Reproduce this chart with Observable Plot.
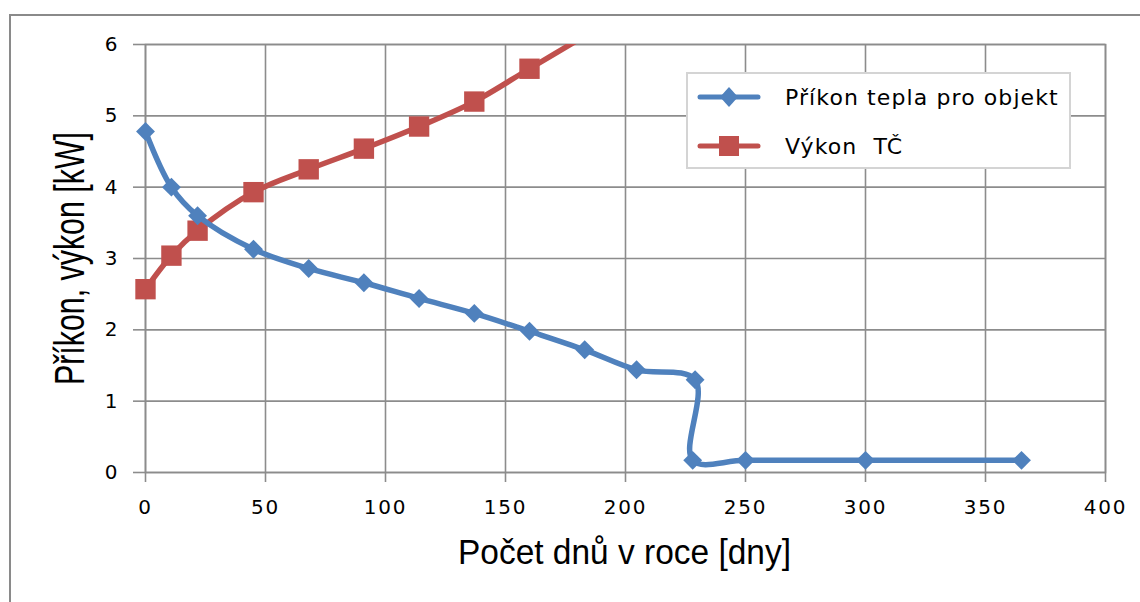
<!DOCTYPE html>
<html>
<head>
<meta charset="utf-8">
<script src="https://cdn.jsdelivr.net/npm/d3@7"></script>
<script src="https://cdn.jsdelivr.net/npm/@observablehq/plot@0.6"></script>
<style>
  html, body { margin: 0; padding: 0; background: #fff; }
  #wrap { position: relative; width: 1140px; height: 602px; overflow: hidden; }
  #border { position: absolute; left: 9px; top: 14px; width: 1200px; height: 700px; border-top: 2px solid #8a8a8a; border-left: 2px solid #8a8a8a; }
  #chart { position: absolute; left: 0; top: 0; }
  #legend { position: absolute; left: 686px; top: 72px; width: 385px; height: 97px; background: #fff; border: 2px solid #d4d4d4; box-sizing: border-box; font-family: "DejaVu Sans", Verdana, sans-serif; font-size: 22px; letter-spacing: 1.1px; color: #000; }
  .item { position: absolute; left: 9px; height: 26px; display: flex; align-items: center; white-space: pre; }
  .item span { margin-left: 24px; }
</style>
</head>
<body>
<div id="wrap">
  <div id="border"></div>
  <div id="chart"></div>
  <div id="legend"></div>
</div>
<script>
const seriesNames = ["Příkon tepla pro objekt", "Výkon  TČ"];
const seriesColors = ["#4F81BD", "#C0504D"];

const blueDays   = [0, 10.8, 21.7, 45, 68, 91, 114, 137, 160, 183, 204.6, 229, 228, 250, 300, 365];
const blueValues = [4.78, 4.0, 3.60, 3.13, 2.86, 2.66, 2.44, 2.23, 1.98, 1.72, 1.44, 1.30, 0.17, 0.17, 0.17, 0.17];

const redDays   = [0, 10.8, 21.7, 45, 68, 91, 114, 137, 160, 183];
const redValues = [2.57, 3.04, 3.39, 3.93, 4.25, 4.54, 4.85, 5.20, 5.66, 6.12];

const xTicks = [0, 50, 100, 150, 200, 250, 300, 350, 400];
const yTicks = [0, 1, 2, 3, 4, 5, 6];
const xTitle = "Počet dnů v roce [dny]";
const yTitle = "Příkon, výkon [kW]";

const blue = blueDays.map((d, i) => ({x: d, y: blueValues[i]}));
const red = redDays.map((d, i) => ({x: d, y: redValues[i]}));
const yMax = yTicks[yTicks.length - 1];

const tickFont = "DejaVu Sans, Verdana, sans-serif";
const titleFont = "Liberation Sans, Arial, sans-serif";

const plot = Plot.plot({
  width: 1140,
  height: 602,
  marginLeft: 145,
  marginRight: 35,
  marginTop: 44,
  marginBottom: 130,
  x: {domain: [0, 400]},
  y: {domain: [0, 6]},
  style: {background: "transparent", color: "#000"},
  marks: [
    Plot.gridX(xTicks, {stroke: "#8c8c8c", strokeOpacity: 1, strokeWidth: 1.6}),
    Plot.gridY(yTicks, {stroke: "#8c8c8c", strokeOpacity: 1, strokeWidth: 1.6}),
    Plot.frame({stroke: "#8c8c8c", strokeWidth: 1.6}),
    Plot.axisX({ticks: xTicks, tickSize: 10, tickPadding: 17, stroke: "#8c8c8c", strokeWidth: 1.6, fontSize: 20, fontFamily: tickFont, fill: "#000", label: null, tickFormat: d => String(d)}),
    Plot.axisY({ticks: yTicks, tickSize: 12, tickPadding: 16, stroke: "#8c8c8c", strokeWidth: 1.6, fontSize: 20, fontFamily: tickFont, fill: "#000", label: null, tickFormat: d => String(d)}),
    Plot.line(red, {x: "x", y: "y", stroke: seriesColors[1], strokeWidth: 5.5, curve: "catmull-rom", clip: true}),
    Plot.dot(red.filter(d => d.y <= yMax), {x: "x", y: "y", symbol: "square", r: 11.5, fill: seriesColors[1], stroke: "none"}),
    Plot.line(blue, {x: "x", y: "y", stroke: seriesColors[0], strokeWidth: 5.5, curve: "catmull-rom", clip: true}),
    Plot.dot(blue, {x: "x", y: "y", symbol: "diamond2", r: 8.5, fill: seriesColors[0], stroke: "none"}),
    Plot.text([xTitle], {frameAnchor: "bottom", dx: -1, dy: 80, fontSize: 35, fontFamily: titleFont, fill: "#000", lineAnchor: "middle", textAnchor: "middle"}),
    Plot.text([yTitle], {frameAnchor: "left", dx: -75, dy: 0, rotate: -90, fontSize: 43, fontFamily: titleFont, fill: "#000", lineAnchor: "middle", textAnchor: "middle"})
  ]
});
document.getElementById("chart").appendChild(plot);

// fit title lengths (narrow face as in the reference)
d3.select(plot).selectAll("text").each(function() {
  const t = this.textContent;
  if (t === xTitle) d3.select(this).attr("textLength", 333).attr("lengthAdjust", "spacingAndGlyphs");
  if (t === yTitle) d3.select(this).attr("textLength", 253).attr("lengthAdjust", "spacingAndGlyphs");
});
// x tick labels slightly wider
d3.select(plot).selectAll("g[aria-label='x-axis tick label'] text").attr("letter-spacing", "1.8");

// legend
const legend = document.getElementById("legend");
seriesNames.forEach((name, i) => {
  const item = document.createElement("div");
  item.className = "item";
  item.style.top = (i === 0 ? 10 : 59) + "px";
  const sym = i === 0
    ? `<polygon points="32,3 41,13 32,23 23,13" fill="${seriesColors[0]}"/>`
    : `<rect x="22" y="3" width="20" height="20" fill="${seriesColors[1]}"/>`;
  item.innerHTML = `<svg width="64" height="26"><line x1="3" y1="13" x2="61" y2="13" stroke="${seriesColors[i]}" stroke-width="5" stroke-linecap="round"/>${sym}</svg><span>${name}</span>`;
  legend.appendChild(item);
});
</script>
</body>
</html>
